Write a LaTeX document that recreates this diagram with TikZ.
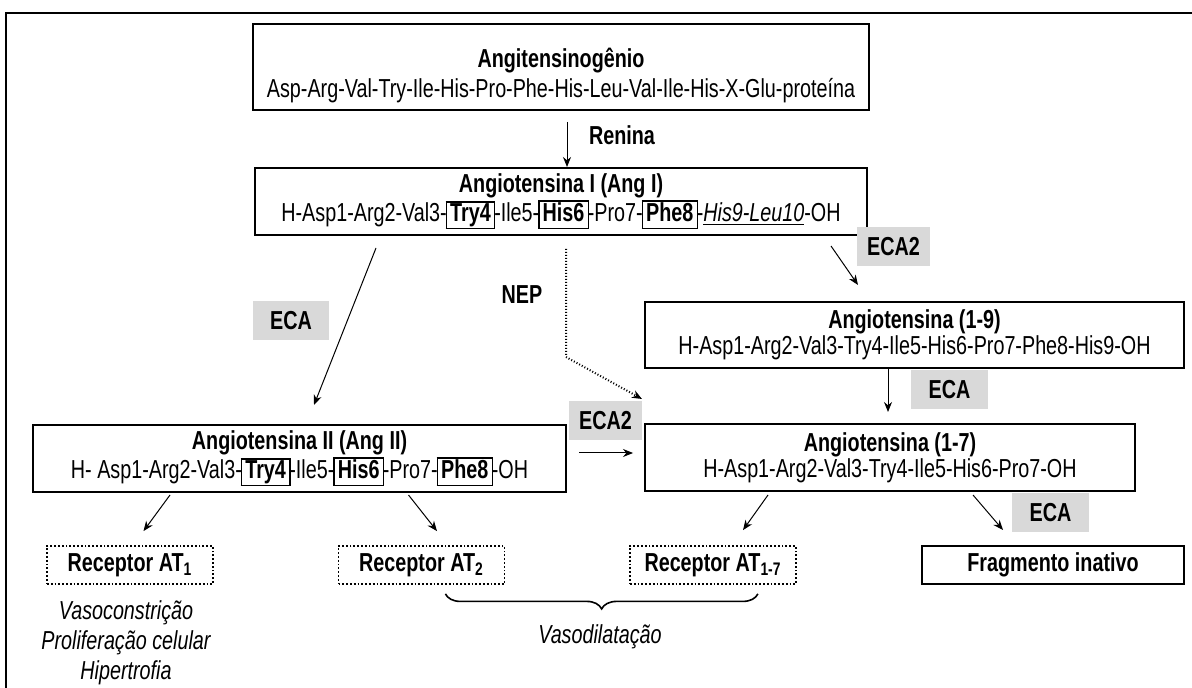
\documentclass[tikz,border=0pt]{standalone}
\usepackage{fontspec}
\setmainfont{Liberation Sans}[FakeStretch=0.76]
\usetikzlibrary{positioning,calc,arrows.meta,decorations.pathreplacing}
\newcommand{\fs}{\fontsize{13}{13}\selectfont}
\newcommand{\resbox}[1]{{\setlength{\fboxsep}{0.4pt}\setlength{\fboxrule}{0.7pt}\kern-0.6pt\fbox{\hspace{1.2pt}\textbf{#1}\vphantom{Ty}\hspace{1.2pt}}\kern-0.6pt}}

\begin{document}
\begin{tikzpicture}[x=0.5pt, y=-0.5pt,
    pepbox/.style={draw=black, line width=1pt, inner sep=0pt, align=center, font=\fs,
                   execute at begin node=\rule{0pt}{13.5pt}},
    fragbox/.style={draw=black, line width=1pt, inner sep=0pt, font=\fs\bfseries},
    recbox/.style={draw=black, densely dotted, line width=0.9pt, inner sep=0pt,
                   minimum width=83pt, minimum height=19pt, font=\fs\bfseries},
    enzbox/.style={fill=black!15, inner sep=0pt, minimum height=19.5pt, font=\fs\bfseries},
    arr/.style={-{Stealth[length=5pt,width=4pt]}, line width=0.5pt}]
    \def\px{0.5pt}
    \useasboundingbox (0,0) rectangle (1192,688);
    \draw[line width=1pt] (6,700) -- (6,13) -- (1200,13);

    \node[pepbox, minimum width=616*\px, minimum height=86*\px] (agt) at (561,67)
      {\rule{0pt}{18pt}\textbf{Angitensinogênio}\\[2pt]
       Asp-Arg-Val-Try-Ile-His-Pro-Phe-His-Leu-Val-Ile-His-X-Glu-proteína};
    \node[pepbox, minimum width=612*\px, minimum height=67*\px] (angI) at (561,201.5)
      {\textbf{Angiotensina I (Ang I)}\\
       H-Asp1-Arg2-Val3-\resbox{Try4}-Ile5-\resbox{His6}-Pro7-\resbox{Phe8}-\underline{\textit{His9-Leu10}}-OH};
    \node[pepbox, minimum width=533*\px, minimum height=67*\px] (angII) at (299.5,458.5)
      {\textbf{Angiotensina II (Ang II)}\\
       H- Asp1-Arg2-Val3-\resbox{Try4}-Ile5-\resbox{His6}-Pro7-\resbox{Phe8}-OH};
    \node[pepbox, minimum width=539*\px, minimum height=66*\px] (ang19) at (914.5,335)
      {\textbf{Angiotensina (1-9)}\\ H-Asp1-Arg2-Val3-Try4-Ile5-His6-Pro7-Phe8-His9-OH};
    \node[pepbox, minimum width=490*\px, minimum height=67*\px] (ang17) at (890,457.5)
      {\textbf{Angiotensina (1-7)}\\ H-Asp1-Arg2-Val3-Try4-Ile5-His6-Pro7-OH};

    \foreach \n/\x/\s in {at1/130/1, at2/421.5/2, at17/713/1-7}
      \node[recbox] (\n) at (\x,565) {Receptor AT\textsubscript{\s}};
    \node[fragbox, minimum width=262*\px, minimum height=38*\px] (frag) at (1053,565)
      {Fragmento inativo};

    \foreach \n/\x/\y/\w/\t in {ecaA/291/320.5/76/ECA, eca2A/893.5/246.5/73/ECA2,
        eca2B/605.5/420.5/73/ECA2, ecaB/949.5/390/77/ECA, ecaC/1050.5/512.5/77/ECA}
      \node[enzbox, minimum width=\w*\px] (\n) at (\x,\y) {\t};
    \node[font=\fs\bfseries] (renina) at (622,135) {Renina};
    \node[font=\fs\bfseries] (nep) at (522,295) {NEP};

    \draw[arr] ($(agt.south)+(6,11)$) -- ($(angI.north)+(6,0)$);
    \draw[arr] ($(angI.south west)+(122,12)$) -- ($(angII.north west)+(282,-19)$);
    \draw[arr, densely dotted, line width=1pt] ($(angI.south west)+(312,13)$)
      -- ($(angI.south west)+(312,121)$) -- ($(ang17.north west)+(-2,-24)$);
    \draw[arr] ($(angI.south east)+(-37,10)$) -- ($(ang19.north west)+(214,-16)$);
    \draw[arr] ($(ang19.south west)+(244,0)$) -- ($(ang17.north west)+(244,-11)$);
    \draw[arr] ($(angII.east)+(12,-5.5)$) -- ($(ang17.west)+(-11,-4.5)$);
    \draw[arr] ($(angII.south west)+(138,2)$) -- ($(at1.north)+(13.5,-14)$);
    \draw[arr] ($(angII.south west)+(376.5,2)$) -- ($(at2.north)+(15.5,-14)$);
    \draw[arr] ($(ang17.south west)+(124,3)$) -- ($(at17.north)+(30,-15)$);
    \draw[arr] ($(ang17.south west)+(329,3)$) -- ($(frag.north)+(-50,-15)$);

    \draw[line width=0.8pt, decorate, decoration={brace, amplitude=7.5pt, mirror}]
      ($(at2.south east)+(-60,9)$) -- ($(at17.south east)+(-39,9)$);
    \node[font=\fs\itshape] (vaso) at (600,637) {Vasodilatação};
    \node[font=\fontsize{13}{15}\selectfont\itshape, align=center] (efx) at (126,643)
      {Vasoconstrição\\ Proliferação celular\\ Hipertrofia};
  \end{tikzpicture}
\end{document}
